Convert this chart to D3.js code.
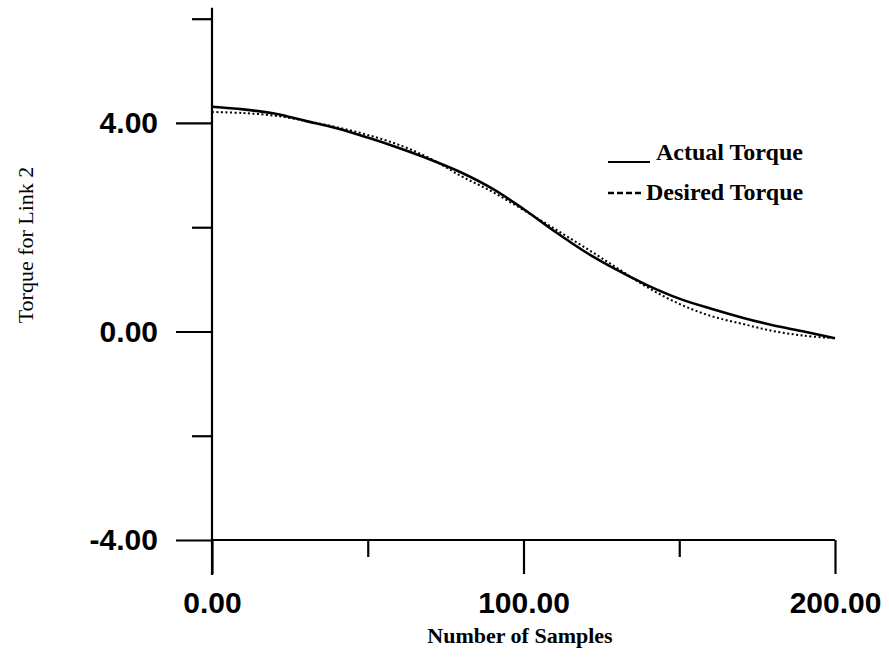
<!DOCTYPE html>
<html>
<head>
<meta charset="utf-8">
<script src="https://cdn.jsdelivr.net/npm/d3@7"></script>
<style>
  html, body { margin: 0; padding: 0; background: #fff; }
  svg { display: block; }
</style>
</head>
<body>
<svg id="chart" width="889" height="658"></svg>
<script>
const samples = [0, 10, 20, 30, 40, 50, 60, 70, 80, 90, 100, 110, 120, 130, 140, 150, 160, 170, 180, 190, 200];
const actualTorque = [4.31, 4.26, 4.18, 4.04, 3.90, 3.72, 3.52, 3.30, 3.05, 2.74, 2.35, 1.92, 1.52, 1.18, 0.88, 0.63, 0.44, 0.27, 0.12, 0.00, -0.13];
const desiredTorque = [4.21, 4.19, 4.14, 4.04, 3.92, 3.77, 3.58, 3.32, 2.98, 2.68, 2.33, 1.97, 1.60, 1.22, 0.84, 0.53, 0.30, 0.15, 0.01, -0.08, -0.13];

const xMajorTicks = [0, 100, 200];
const xMinorTicks = [50, 150];
const xTickLabels = ["0.00", "100.00", "200.00"];
const yMajorTicks = [-4, 0, 4];
const yMinorTicks = [-2, 2, 6];
const yTickLabels = ["-4.00", "0.00", "4.00"];

const xTitle = "Number of Samples";
const yTitle = "Torque for Link 2";
const legendLabels = ["Actual Torque", "Desired Torque"];

const svg = d3.select("#chart");
const x = d3.scaleLinear().domain([0, 200]).range([212, 835]);
const y = d3.scaleLinear().domain([-4, 6]).range([540, 18.7]);

const ink = "#000";

// y axis line (extends above top tick and below x axis)
svg.append("line")
  .attr("x1", x(0)).attr("x2", x(0))
  .attr("y1", y(6) - 11).attr("y2", y(-4) + 35)
  .attr("stroke", ink).attr("stroke-width", 2.2);

// x axis line
svg.append("line")
  .attr("x1", x(0)).attr("x2", x(200))
  .attr("y1", y(-4)).attr("y2", y(-4))
  .attr("stroke", ink).attr("stroke-width", 2.2);

// x axis ticks (downward)
const xAxisMajor = d3.axisBottom(x).tickValues(xMajorTicks)
  .tickSize(34).tickSizeOuter(0).tickFormat((d, i) => xTickLabels[i]).tickPadding(18);
const gxM = svg.append("g").attr("transform", `translate(0,${y(-4)})`).call(xAxisMajor);
gxM.select(".domain").remove();
gxM.selectAll(".tick line").attr("stroke", ink).attr("stroke-width", 2.2);
gxM.selectAll(".tick text")
  .attr("fill", ink)
  .style("font-family", "'Liberation Sans', Arial, sans-serif")
  .style("font-weight", "bold")
  .style("font-size", "30px");

const xAxisMinor = d3.axisBottom(x).tickValues(xMinorTicks)
  .tickSize(17).tickSizeOuter(0).tickFormat("");
const gxm = svg.append("g").attr("transform", `translate(0,${y(-4)})`).call(xAxisMinor);
gxm.select(".domain").remove();
gxm.selectAll(".tick line").attr("stroke", ink).attr("stroke-width", 2.2);

// y axis ticks (leftward)
const yAxisMajor = d3.axisLeft(y).tickValues(yMajorTicks)
  .tickSize(36).tickSizeOuter(0).tickFormat((d, i) => yTickLabels[i]).tickPadding(18);
const gyM = svg.append("g").attr("transform", `translate(${x(0)},0)`).call(yAxisMajor);
gyM.select(".domain").remove();
gyM.selectAll(".tick line").attr("stroke", ink).attr("stroke-width", 2.2);
gyM.selectAll(".tick text")
  .attr("fill", ink)
  .style("font-family", "'Liberation Sans', Arial, sans-serif")
  .style("font-weight", "bold")
  .style("font-size", "30px");

const yAxisMinor = d3.axisLeft(y).tickValues(yMinorTicks)
  .tickSize(20).tickSizeOuter(0).tickFormat("");
const gym = svg.append("g").attr("transform", `translate(${x(0)},0)`).call(yAxisMinor);
gym.select(".domain").remove();
gym.selectAll(".tick line").attr("stroke", ink).attr("stroke-width", 2.2);

// curves
const lineGen = (vals) => d3.line()
  .x((d, i) => x(samples[i]))
  .y(d => y(d))
  .curve(d3.curveCatmullRom.alpha(0.5))(vals);

svg.append("path")
  .attr("d", lineGen(desiredTorque))
  .attr("fill", "none")
  .attr("stroke", ink)
  .attr("stroke-width", 2)
  .attr("stroke-dasharray", "2,2.5");

svg.append("path")
  .attr("d", lineGen(actualTorque))
  .attr("fill", "none")
  .attr("stroke", ink)
  .attr("stroke-width", 2.6);

// axis titles
svg.append("text")
  .attr("x", 520).attr("y", 643)
  .attr("text-anchor", "middle")
  .attr("fill", ink)
  .style("font-family", "'Liberation Serif', 'Times New Roman', serif")
  .style("font-weight", "bold")
  .style("font-size", "22px")
  .text(xTitle);

svg.append("text")
  .attr("transform", `translate(33,${245}) rotate(-90)`)
  .attr("text-anchor", "middle")
  .attr("fill", ink)
  .style("font-family", "'Liberation Serif', 'Times New Roman', serif")
  .style("font-size", "22px")
  .text(yTitle);

// legend
const legend = svg.append("g");
legend.append("line")
  .attr("x1", 608).attr("x2", 650).attr("y1", 162).attr("y2", 162)
  .attr("stroke", ink).attr("stroke-width", 2.2);
legend.append("text")
  .attr("x", 656).attr("y", 160)
  .attr("fill", ink)
  .style("font-family", "'Liberation Serif', 'Times New Roman', serif")
  .style("font-weight", "bold")
  .style("font-size", "24px")
  .text(legendLabels[0]);
legend.append("line")
  .attr("x1", 608).attr("x2", 642).attr("y1", 193).attr("y2", 193)
  .attr("stroke", ink).attr("stroke-width", 2.6)
  .attr("stroke-dasharray", "6,3");
legend.append("text")
  .attr("x", 646).attr("y", 200)
  .attr("fill", ink)
  .style("font-family", "'Liberation Serif', 'Times New Roman', serif")
  .style("font-weight", "bold")
  .style("font-size", "24px")
  .text(legendLabels[1]);
</script>
</body>
</html>
